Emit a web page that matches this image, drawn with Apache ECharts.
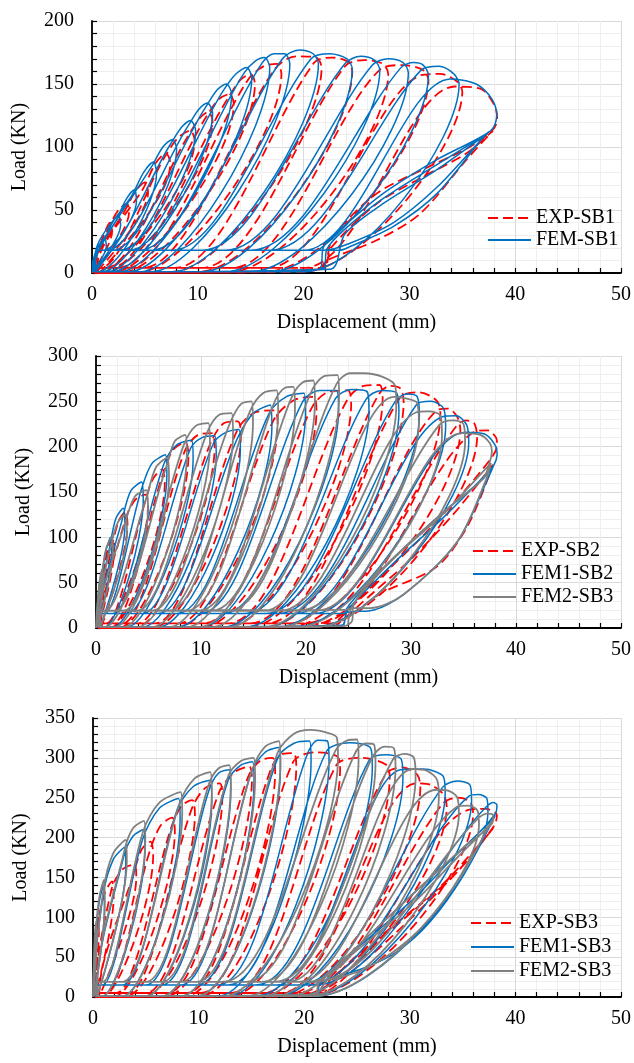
<!DOCTYPE html>
<html>
<head>
<meta charset="utf-8">
<script src="https://cdn.jsdelivr.net/npm/echarts@6.0.0/dist/echarts.min.js"></script>
<style>
  html, body { margin: 0; padding: 0; background: #ffffff; }
  #chart { width: 634px; height: 1063px; }
</style>
</head>
<body>
<div id="chart"></div>
<script>
// Axis scales (same displacement range for all three panels)
const xMin = 0, xMax = 50, xStep = 10;
const yMaxes = [200, 300, 350];
const yStep = 50;
const xTitle = 'Displacement (mm)';
const yTitle = 'Load (KN)';

// ---- Panel 1: SB1 load–displacement loops, one sub-array per cycle ----
const expSB1 = [
  [[0,0],[0.5,15],[1.1,30],[1.7,40],[1.9,33],[0.1,1]],
  [[0.1,4],[1.6,36],[2.5,50],[3.3,55],[3.5,48],[0.25,1]],
  [[0.25,4],[3.2,51],[4.2,66],[5.0,72],[5.3,64],[0.45,1]],
  [[0.45,4],[4.9,68],[6.0,87],[7.0,95],[7.4,87],[0.8,1]],
  [[0.2,0],[0.5,4],[0.8,4],[6.8,91],[8.1,107],[9.3,113],[9.7,105],[1.3,1]],
  [[0.2,0],[0.5,4],[1.3,4],[9.1,109],[10.2,123],[11.0,128],[11.4,120],[1.8,1]],
  [[0.2,0],[0.5,4],[1.8,4],[10.8,124],[12.0,138],[13.0,142],[13.4,134],[2.5,1]],
  [[0.2,0],[0.5,4],[2.5,4],[12.8,138],[14.0,153],[15.0,158],[15.4,150],[3.3,1]],
  [[0.2,0],[0.5,4],[3.3,4],[14.8,154],[16.2,164],[17.5,166],[17.9,158],[4.8,1]],
  [[0.2,0],[0.5,4],[4.8,4],[17.3,162],[19.3,172],[21.2,171],[21.7,163],[7.8,1]],
  [[0.2,0],[0.5,4],[7.8,4],[21.0,167],[22.7,171],[24.1,168],[24.6,160],[10.3,1]],
  [[0.2,0],[0.5,4],[10.3,4],[23.9,164],[25.8,169],[27.5,166],[28.0,158],[13.2,1]],
  [[0.2,0],[0.5,4],[13.2,4],[27.3,162],[29.4,165],[31.3,161],[31.8,153],[16.6,1]],
  [[0.2,0],[0.5,4],[16.6,4],[31.1,157],[32.9,158],[34.5,152],[35.0,144],[20.0,1]],
  [[0.2,0],[0.5,4],[20.0,4],[34.3,148],[36.8,146],[38.1,132],[38.3,122],[37.9,114],[35.7,100],[31.5,83],[26.9,63],[22.8,29],[21.5,3]],
  [[0.2,0],[0.5,4],[21.5,4],[22.2,10],[26.9,26],[31.0,47],[35.4,90],[37.9,113],[37.5,110],[35.4,95],[31.0,75],[26.9,55],[22.6,20],[21.8,3],[0.2,0]]
];

const femSB1 = [
  [[0,0],[0.4,12],[0.8,22],[1.2,28],[1.35,21],[0.05,1]],
  [[0.05,8],[1.1,25],[1.8,38],[2.5,46],[2.7,38],[0.15,1]],
  [[0.15,10],[2.3,42],[3.2,58],[4.0,66],[4.2,57],[0.3,1]],
  [[0.3,14],[3.8,62],[4.9,80],[5.8,88],[6.1,79],[0.6,1]],
  [[0.3,1],[0.6,18],[5.6,84],[6.7,100],[7.6,106],[8.0,98],[1.0,1]],
  [[0.3,1],[0.5,18],[1.0,18],[7.4,102],[8.5,116],[9.3,121],[9.8,113],[1.4,1]],
  [[0.3,1],[0.5,18],[1.4,18],[9.1,117],[10.1,130],[10.9,135],[11.4,127],[1.9,1]],
  [[0.3,1],[0.5,18],[1.9,18],[10.7,131],[11.8,145],[12.7,150],[13.2,142],[2.6,1]],
  [[0.3,1],[0.5,18],[2.6,18],[12.5,146],[13.6,158],[14.6,163],[15.1,155],[3.5,1]],
  [[0.3,1],[0.5,18],[3.5,18],[14.4,159],[15.4,168],[16.3,171],[16.8,163],[4.5,1]],
  [[0.3,1],[0.5,18],[4.5,18],[16.1,167],[17.2,174],[18.2,174],[18.7,166],[5.6,1]],
  [[0.3,1],[0.5,18],[5.6,18],[18.0,170],[19.6,177],[20.9,174],[21.4,166],[7.6,1]],
  [[0.3,1],[0.5,18],[7.6,18],[20.7,170],[22.5,174],[24.1,170],[24.6,162],[10.4,1]],
  [[0.3,1],[0.5,18],[10.4,18],[23.9,166],[25.4,172],[26.7,169],[27.2,161],[12.6,1]],
  [[0.3,1],[0.5,18],[12.6,18],[26.5,165],[28.0,170],[29.4,167],[29.9,159],[15.0,1]],
  [[0.3,1],[0.5,18],[15.0,18],[29.2,163],[30.4,167],[31.3,165],[31.8,157],[16.8,1]],
  [[0.3,1],[0.5,18],[16.8,18],[31.1,161],[32.8,164],[34.2,158],[34.7,150],[20.0,1]],
  [[0.3,1],[0.5,18],[20.0,18],[33.9,154],[36.3,150],[37.8,138],[38.25,125],[37.7,113],[32.6,90],[27.5,63],[23.8,37],[21.9,21],[21.5,3]],
  [[0.3,1],[0.5,18],[21.5,18],[23.4,18],[24.4,21],[28.5,37],[32.6,63],[37.0,108],[37.5,112],[37.2,110],[32.6,86],[27.5,59],[23.8,34],[22.2,19],[21.9,3]],
  [[0.3,1],[0.5,18],[21.9,18],[24.2,23],[28.5,40],[32.6,68],[36.8,106],[37.4,111],[32.6,82],[27.5,55],[23.9,31],[22.5,3],[0.3,1]]
];

// ---- Panel 2: SB2 ----
const expSB2 = [
  [[0,0],[0.3,36],[0.55,59],[0.8,70],[0.9,58],[0.1,1]],
  [[0.1,5],[0.75,62],[1.15,89],[1.6,100],[1.75,88],[0.25,1]],
  [[0.25,5],[1.55,92],[2.2,119],[2.8,128],[3.0,114],[0.5,1]],
  [[0.5,5],[2.75,118],[3.7,141],[4.7,147],[4.95,134],[1.0,1]],
  [[0.2,0],[0.5,5],[1.0,5],[4.65,138],[5.4,164],[6.3,175],[6.55,160],[1.6,1]],
  [[0.2,0],[0.5,5],[1.6,5],[6.25,165],[7.3,196],[8.5,205],[8.8,190],[2.5,1]],
  [[0.2,0],[0.5,5],[2.5,5],[8.45,195],[9.7,213],[11.0,215],[11.3,200],[3.9,1]],
  [[0.2,0],[0.5,5],[3.9,5],[10.95,205],[12.2,226],[13.5,228],[13.8,213],[5.6,1]],
  [[0.2,0],[0.5,5],[5.6,5],[13.45,218],[15.2,238],[17.0,240],[17.3,225],[7.8,1]],
  [[0.2,0],[0.5,5],[7.8,5],[16.95,230],[18.8,251],[20.7,255],[21.0,240],[10.2,1]],
  [[0.2,0],[0.5,5],[10.2,5],[20.65,245],[22.3,261],[24.0,262],[24.3,247],[12.5,1]],
  [[0.2,0],[0.5,5],[12.5,5],[23.95,252],[25.5,267],[27.0,268],[27.3,253],[14.6,1]],
  [[0.2,0],[0.5,5],[14.6,5],[26.95,258],[28.0,267],[29.0,264],[29.3,249],[16.2,1]],
  [[0.2,0],[0.5,5],[16.2,5],[28.95,254],[30.8,260],[32.5,250],[32.8,235],[18.4,1]],
  [[0.2,0],[0.5,5],[18.4,5],[32.45,240],[33.5,242],[34.4,233],[34.7,218],[19.8,1]],
  [[0.2,0],[0.5,5],[19.8,5],[34.35,223],[35.2,229],[36.0,226],[36.3,211],[21.0,1]],
  [[0.2,0],[0.5,5],[21.0,5],[35.95,216],[37.3,218],[38.1,210],[38.2,202],[37.8,190],[35.0,150],[31.0,100],[27.0,55],[24.5,25],[23.0,8],[22.3,2]],
  [[0.2,0],[0.5,5],[22.3,5],[24.3,15],[27.1,38],[32.5,68],[35.5,115],[37.8,180],[37.4,174],[34.0,125],[30.0,76],[26.5,40],[23.8,12],[22.8,2]]
];

const fem1SB2 = [
  [[0,0],[0.2,35],[0.4,53],[0.6,62],[0.65,50],[0.05,1]],
  [[0.05,10],[0.55,55],[0.9,83],[1.4,100],[1.5,85],[0.15,1]],
  [[0.15,12],[1.35,92],[1.9,121],[2.6,132],[2.75,112],[0.4,1]],
  [[0.4,14],[2.55,122],[3.3,151],[4.35,161],[4.5,140],[0.8,1]],
  [[0.3,1],[0.5,16],[0.8,16],[4.3,152],[5.3,181],[6.6,191],[6.75,168],[1.6,1]],
  [[0.3,1],[0.5,16],[1.6,16],[6.5,182],[7.7,202],[9.1,207],[9.25,185],[2.9,1]],
  [[0.3,1],[0.5,16],[2.9,16],[9.0,198],[10.1,210],[11.3,212],[11.45,190],[4.4,1]],
  [[0.3,1],[0.5,16],[4.4,16],[11.2,204],[12.4,216],[13.6,219],[13.75,196],[5.9,1]],
  [[0.3,1],[0.5,16],[5.9,16],[13.5,210],[15.0,237],[16.6,246],[16.75,222],[7.7,1]],
  [[0.3,1],[0.5,16],[7.7,16],[16.5,237],[18.1,255],[19.8,259],[19.95,236],[9.9,1]],
  [[0.3,1],[0.5,16],[9.9,16],[19.7,250],[21.3,262],[22.9,262],[23.1,240],[12.1,1]],
  [[0.3,1],[0.5,16],[12.1,16],[22.8,253],[24.3,263],[25.8,261],[26.0,240],[14.2,1]],
  [[0.3,1],[0.5,16],[14.2,16],[25.7,252],[27.2,262],[28.65,259],[28.85,238],[16.1,1]],
  [[0.3,1],[0.5,16],[16.1,16],[28.5,250],[29.6,258],[30.6,255],[30.8,234],[17.3,1]],
  [[0.3,1],[0.5,16],[17.3,16],[30.5,246],[31.9,250],[33.1,242],[33.3,222],[19.0,1]],
  [[0.3,1],[0.5,16],[19.0,16],[33.0,233],[34.3,234],[35.3,224],[35.5,205],[20.8,1]],
  [[0.3,1],[0.5,16],[20.8,16],[35.2,216],[37.0,214],[38.0,202],[38.2,191],[37.9,180],[36.9,165],[33.1,128],[29.3,88],[26.1,51],[23.9,22],[23.4,3]],
  [[0.3,1],[0.5,16],[23.4,16],[24.2,18],[26.1,19],[29.3,37],[34.4,95],[37.6,172],[37.9,180],[37.6,175],[33.1,122],[29.3,82],[26.1,46],[24.0,20],[23.6,3]]
];

const fem2SB2 = [
  [[0,0],[0.2,36],[0.4,56],[0.6,65],[0.65,52],[0.05,1]],
  [[0.05,12],[0.55,58],[0.95,87],[1.5,100],[1.6,84],[0.15,1]],
  [[0.15,14],[1.45,92],[2.1,117],[2.8,125],[2.95,105],[0.4,1]],
  [[0.4,16],[2.75,115],[3.7,145],[4.8,152],[4.95,130],[0.9,1]],
  [[0.3,1],[0.5,19],[0.9,19],[4.75,142],[5.7,177],[6.8,188],[6.95,165],[1.8,1]],
  [[0.3,1],[0.5,19],[1.8,19],[6.7,178],[7.5,206],[8.5,213],[8.65,190],[2.6,1]],
  [[0.3,1],[0.5,19],[2.6,19],[8.4,203],[9.5,223],[10.7,226],[10.85,202],[3.9,1]],
  [[0.3,1],[0.5,19],[3.9,19],[10.6,216],[11.7,235],[12.9,237],[13.05,213],[5.3,1]],
  [[0.3,1],[0.5,19],[5.3,19],[12.8,227],[13.8,247],[14.8,250],[14.95,226],[6.9,1]],
  [[0.3,1],[0.5,19],[6.9,19],[14.7,240],[15.9,259],[17.2,262],[17.35,238],[8.6,1]],
  [[0.3,1],[0.5,19],[8.6,19],[17.1,252],[18.0,265],[18.8,266],[18.95,242],[9.8,1]],
  [[0.3,1],[0.5,19],[9.8,19],[18.7,256],[19.7,271],[20.7,273],[20.85,249],[11.0,1]],
  [[0.3,1],[0.5,19],[11.0,19],[20.6,263],[21.8,278],[23.0,279],[23.15,255],[12.6,1]],
  [[0.3,1],[0.5,19],[12.6,19],[22.9,269],[24.2,281],[25.5,281],[27.3,277],[28.5,267],[28.6,245],[16.0,1]],
  [[0.3,1],[0.5,19],[16.0,19],[28.4,255],[29.6,253],[30.6,248],[30.75,226],[17.5,1]],
  [[0.3,1],[0.5,19],[17.5,19],[30.5,238],[31.7,239],[32.8,234],[32.95,212],[19.2,1]],
  [[0.3,1],[0.5,19],[19.2,19],[32.7,224],[34.0,229],[35.0,225],[35.15,205],[21.0,1]],
  [[0.3,1],[0.5,19],[21.0,19],[34.9,215],[36.6,213],[37.5,204],[37.7,195],[37.5,183],[36.9,165],[33.1,128],[29.3,88],[26.1,51],[24.5,24],[24.4,8],[23.6,2]],
  [[0.3,1],[0.5,19],[23.6,20],[24.6,22],[26.1,22],[29.3,37],[34.4,95],[37.2,165],[37.6,182],[37.3,178],[33.0,125],[29.0,84],[26.0,48],[24.3,22],[24.0,3]]
];

// ---- Panel 3: SB3 ----
const expSB3 = [
  [[0,0],[0.2,60],[0.35,88],[0.5,100],[0.55,80],[0.03,1]],
  [[0.03,5],[0.45,90],[1.1,130],[1.8,145],[1.95,125],[0.2,1]],
  [[0.2,5],[1.75,135],[2.8,160],[3.9,166],[4.1,150],[0.6,1]],
  [[0.6,5],[3.85,155],[4.6,185],[5.45,195],[5.7,178],[1.2,1]],
  [[0.2,0],[0.5,5],[1.2,5],[5.4,184],[6.4,215],[7.5,225],[7.75,208],[2.2,1]],
  [[0.2,0],[0.5,5],[2.2,5],[7.45,214],[8.4,240],[9.4,247],[9.65,230],[3.3,1]],
  [[0.2,0],[0.5,5],[3.3,5],[9.35,236],[10.6,262],[12.0,268],[12.25,252],[5.0,1]],
  [[0.2,0],[0.5,5],[5.0,5],[11.95,257],[13.4,282],[14.8,289],[15.05,273],[7.0,1]],
  [[0.2,0],[0.5,5],[7.0,5],[14.75,278],[15.9,297],[17.0,300],[17.25,284],[8.8,1]],
  [[0.2,0],[0.5,5],[8.8,5],[16.95,289],[18.0,305],[19.0,306],[19.25,290],[10.2,1]],
  [[0.2,0],[0.5,5],[10.2,5],[18.95,295],[21.0,307],[23.1,302],[23.4,286],[13.0,1]],
  [[0.2,0],[0.5,5],[13.0,5],[23.05,291],[25.5,300],[27.8,291],[28.1,275],[16.0,1]],
  [[0.2,0],[0.5,5],[16.0,5],[27.75,280],[29.3,288],[30.7,279],[31.0,263],[17.8,1]],
  [[0.2,0],[0.5,5],[17.8,5],[30.65,268],[32.0,266],[33.2,254],[33.5,238],[19.2,1]],
  [[0.2,0],[0.5,5],[19.2,5],[33.15,243],[34.5,250],[35.7,245],[36.0,230],[20.5,1]],
  [[0.2,0],[0.5,5],[20.5,5],[35.65,235],[37.2,236],[38.25,228],[38.0,215],[34.5,157],[30.5,110],[26.5,65],[22.5,22],[21.5,3]],
  [[0.2,0],[0.5,5],[21.5,5],[24.4,31],[28.8,82],[34.5,157],[37.9,212],[37.5,205],[33.0,140],[28.5,90],[24.0,40],[21.8,3]]
];

const fem1SB3 = [
  [[0,0],[0.1,48],[0.2,78],[0.3,90],[0.33,66],[0.02,1]],
  [[0.02,10],[0.28,80],[0.6,120],[1.0,140],[1.08,110],[0.1,1]],
  [[0.1,12],[0.96,128],[1.9,172],[3.0,188],[3.1,162],[0.4,1]],
  [[0.4,14],[2.9,176],[3.8,202],[4.8,210],[4.92,185],[0.9,1]],
  [[0.3,1],[0.5,15],[0.9,15],[4.7,198],[6.3,237],[8.1,249],[8.25,222],[2.8,1]],
  [[0.3,1],[0.5,15],[2.8,15],[8.0,236],[9.5,264],[11.1,272],[11.25,246],[5.0,1]],
  [[0.3,1],[0.5,15],[5.0,15],[11.0,260],[11.9,281],[12.9,285],[13.05,259],[6.5,1]],
  [[0.3,1],[0.5,15],[6.5,15],[12.8,272],[14.0,291],[15.1,295],[15.25,270],[8.3,1]],
  [[0.3,1],[0.5,15],[8.3,15],[15.0,282],[16.3,307],[17.6,313],[17.75,288],[9.8,1]],
  [[0.3,1],[0.5,15],[9.8,15],[17.5,300],[19.0,318],[20.5,321],[20.65,296],[11.8,1]],
  [[0.3,1],[0.5,15],[11.8,15],[20.4,308],[21.3,322],[22.2,321],[22.35,296],[12.8,1]],
  [[0.3,1],[0.5,15],[12.8,15],[22.1,308],[24.3,319],[26.3,312],[26.45,288],[15.4,1]],
  [[0.3,1],[0.5,15],[15.4,15],[26.2,298],[27.8,304],[29.2,298],[29.35,275],[17.4,1]],
  [[0.3,1],[0.5,15],[17.4,15],[29.1,285],[31.3,286],[33.2,276],[33.35,255],[19.4,1]],
  [[0.3,1],[0.5,15],[19.4,15],[33.1,263],[34.5,271],[35.7,266],[35.85,246],[20.4,1]],
  [[0.3,1],[0.5,15],[20.4,15],[35.6,252],[36.5,254],[37.3,249],[37.4,232],[21.0,1]],
  [[0.3,1],[0.5,15],[21.0,15],[37.2,238],[37.9,244],[38.25,241],[38.1,230],[35.5,192],[31.0,138],[27.0,88],[23.5,44],[21.5,19],[21.1,3]],
  [[0.3,1],[0.5,15],[21.1,15],[21.5,19],[25.6,36],[28.8,57],[31.9,94],[35.1,153],[38.1,228],[37.8,222],[34.5,180],[30.5,125],[26.5,78],[23.0,38],[21.3,3]]
];

const fem2SB3 = [
  [[0,0],[0.1,50],[0.2,82],[0.3,95],[0.33,70],[0.02,1]],
  [[0.02,12],[0.28,85],[0.6,125],[1.04,147],[1.12,115],[0.1,1]],
  [[0.1,14],[1.0,135],[1.9,180],[3.09,197],[3.2,170],[0.4,1]],
  [[0.4,16],[3.0,185],[3.8,212],[4.83,221],[4.95,195],[0.9,1]],
  [[0.3,1],[0.5,19],[0.9,19],[4.75,208],[6.3,244],[8.3,257],[8.45,230],[2.8,1]],
  [[0.3,1],[0.5,19],[2.8,19],[8.2,243],[9.6,274],[11.1,282],[11.25,255],[5.0,1]],
  [[0.3,1],[0.5,19],[5.0,19],[11.0,268],[11.9,287],[12.9,291],[13.05,265],[6.5,1]],
  [[0.3,1],[0.5,19],[6.5,19],[12.8,277],[14.0,296],[15.2,300],[15.35,274],[8.3,1]],
  [[0.3,1],[0.5,19],[8.3,19],[15.1,286],[16.3,314],[17.6,321],[17.75,295],[9.8,1]],
  [[0.3,1],[0.5,19],[9.8,19],[17.5,307],[19.0,330],[20.6,335],[22.3,331],[23.1,325],[23.2,300],[12.3,1]],
  [[0.3,1],[0.5,19],[12.3,19],[23.0,310],[24.1,322],[25.0,323],[25.15,298],[14.5,1]],
  [[0.3,1],[0.5,19],[14.5,19],[24.9,308],[25.8,318],[26.6,317],[26.75,292],[16.0,1]],
  [[0.3,1],[0.5,19],[16.0,19],[26.5,302],[27.6,314],[28.5,312],[28.65,288],[17.2,1]],
  [[0.3,1],[0.5,19],[17.2,19],[28.4,298],[29.5,305],[30.4,300],[30.55,276],[18.5,1]],
  [[0.3,1],[0.5,19],[18.5,19],[30.3,286],[31.6,284],[32.6,272],[32.75,250],[19.5,1]],
  [[0.3,1],[0.5,19],[19.5,19],[32.5,260],[33.6,259],[34.5,250],[34.65,230],[20.3,1]],
  [[0.3,1],[0.5,19],[20.3,19],[34.4,238],[35.5,240],[36.4,234],[36.55,216],[21.0,1]],
  [[0.3,1],[0.5,19],[21.0,19],[36.3,222],[37.3,230],[37.9,228],[37.8,218],[35.3,190],[31.0,138],[27.0,88],[23.5,44],[21.4,19],[21.0,3]],
  [[0.3,1],[0.5,19],[21.0,19],[23.5,25],[26.0,37],[29.0,62],[32.0,100],[35.0,155],[37.8,222],[37.5,215],[34.5,175],[30.5,120],[26.5,75],[23.0,35],[21.2,3]]
];

// Line styles per curve family
const FONT = 'Liberation Serif, Times New Roman, serif';
const styles = {
  exp:  { color: '#ff0000', width: 1.8, type: [10, 5] },
  fem1: { color: '#0070c0', width: 1.5, type: 'solid' },
  fem2: { color: '#808080', width: 1.8, type: 'solid' }
};

const panels = [
  { grid: { left: 92, top: 21, width: 529, height: 252 }, legend: { left: 487, top: 208, gap: 2 },
    curves: [['EXP-SB1', expSB1, 'exp'], ['FEM-SB1', femSB1, 'fem1']] },
  { grid: { left: 96, top: 356, width: 525, height: 272 }, legend: { left: 472, top: 541, gap: 3 },
    curves: [['EXP-SB2', expSB2, 'exp'], ['FEM1-SB2', fem1SB2, 'fem1'], ['FEM2-SB3', fem2SB2, 'fem2']] },
  { grid: { left: 93, top: 718, width: 528, height: 279 }, legend: { left: 470, top: 913, gap: 4 },
    curves: [['EXP-SB3', expSB3, 'exp'], ['FEM1-SB3', fem1SB3, 'fem1'], ['FEM2-SB3', fem2SB3, 'fem2']] }
];

const grids = [], xAxes = [], yAxes = [], legends = [], series = [];
panels.forEach((p, i) => {
  grids.push(Object.assign({ containLabel: false }, p.grid));
  const common = {
    type: 'value', gridIndex: i,
    axisLine: { show: true, onZero: false, lineStyle: { color: '#000', width: 1.8 } },
    axisTick: { show: true, inside: true, length: 5, lineStyle: { color: '#000', width: 1.2 } },
    minorTick: { show: true, splitNumber: 5, length: 5, lineStyle: { color: '#000', width: 1.2 } },
    splitLine: { show: true, lineStyle: { color: '#d9d9d9', width: 1 } },
    minorSplitLine: { show: true, lineStyle: { color: '#efefef', width: 1 } },
    nameLocation: 'middle',
    nameTextStyle: { fontFamily: FONT, fontSize: 20, color: '#000' }
  };
  xAxes.push(Object.assign({}, common, {
    min: xMin, max: xMax, interval: xStep,
    name: xTitle, nameGap: 40,
    axisLabel: { margin: 12, fontFamily: FONT, fontSize: 20, color: '#000' }
  }));
  yAxes.push(Object.assign({}, common, {
    min: 0, max: yMaxes[i], interval: yStep,
    name: yTitle, nameGap: 62, nameRotate: 90,
    axisLabel: { margin: 18, fontFamily: FONT, fontSize: 20, color: '#000' }
  }));
  legends.push({
    orient: 'vertical', left: p.legend.left, top: p.legend.top, padding: 0,
    itemWidth: 43, itemHeight: 14, itemGap: p.legend.gap, selectedMode: false,
    itemStyle: { opacity: 0 },
    data: p.curves.map(c => c[0]),
    textStyle: { fontFamily: FONT, fontSize: 20, color: '#000', lineHeight: 20 }
  });
  p.curves.forEach(([name, cycles, key]) => {
    const s = styles[key];
    series.push({
      type: 'line', name, xAxisIndex: i, yAxisIndex: i,
      data: cycles.flat(),
      showSymbol: false, symbol: 'none', smooth: 0.3,
      color: s.color,
      lineStyle: { color: s.color, width: s.width, type: s.type },
      emphasis: { disabled: true }, silent: true
    });
  });
});

const chart = echarts.init(document.getElementById('chart'), null, { renderer: 'canvas' });
chart.setOption({
  backgroundColor: '#ffffff',
  animation: false,
  grid: grids, xAxis: xAxes, yAxis: yAxes, legend: legends, series
});
</script>
</body>
</html>
